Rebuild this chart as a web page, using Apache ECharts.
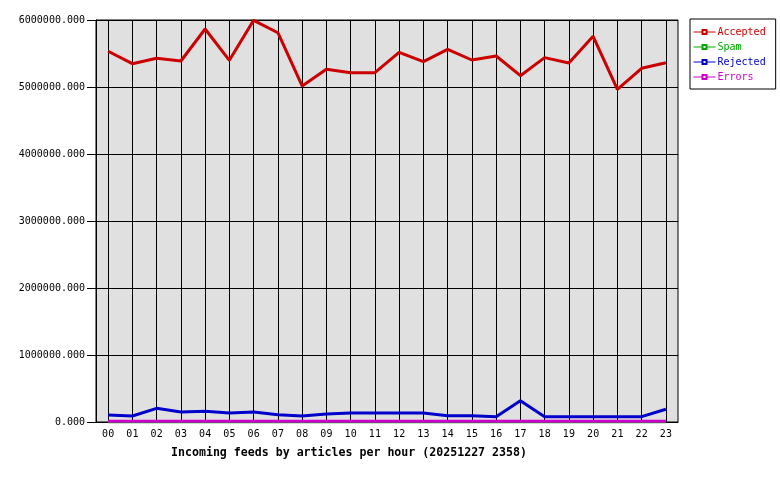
<!DOCTYPE html>
<html><head><meta charset="utf-8">
<script src="https://cdn.jsdelivr.net/npm/echarts@6/dist/echarts.min.js"></script>
<style>html,body{margin:0;padding:0;background:#fff}#c{width:780px;height:480px}</style>
</head><body><div id="c"></div>
<script>
const hours = ['00','01','02','03','04','05','06','07','08','09','10','11','12','13','14','15','16','17','18','19','20','21','22','23'];
const accepted = [5533000,5348000,5428000,5388000,5866000,5398000,5995000,5810000,5015000,5264000,5214000,5214000,5518000,5378000,5562000,5403000,5463000,5169000,5438000,5358000,5757000,4965000,5279000,5363000];
const spam = [0,0,0,0,0,0,0,0,0,0,0,0,0,0,0,0,0,0,0,0,0,0,0,0];
const rejected = [104000,90000,204000,149000,159000,134000,149000,109000,90000,119000,134000,134000,134000,134000,94000,94000,80000,318000,80000,80000,80000,80000,80000,190000];
const errors = [12000,12000,12000,12000,12000,12000,12000,12000,12000,12000,12000,12000,12000,12000,12000,12000,12000,12000,12000,12000,12000,12000,12000,12000];
const yTicks = {min: 0, max: 6000000, interval: 1000000};
const titleText = 'Incoming feeds by articles per hour (20251227 2358)';

const mono = 'DejaVu Sans Mono';
const chart = echarts.init(document.getElementById('c'), null, {renderer: 'canvas'});
function ser(name, data, color) {
  return {name, type: 'line', data, symbol: 'emptyRect', symbolSize: [5, 3], showSymbol: false,
    lineStyle: {color, width: 3}, itemStyle: {color, borderColor: color, borderWidth: 1},
    animation: false, emphasis: {disabled: true}};
}
chart.setOption({
  animation: false,
  title: {text: titleText, left: 166, top: 442,
    textStyle: {fontFamily: mono, fontSize: 11.6, fontWeight: 'bold', color: '#000'}},
  legend: {orient: 'vertical', left: 690, top: 19, padding: [8, 10, 7, 3], itemGap: 5,
    itemWidth: 22, itemHeight: 5, borderColor: '#000', borderWidth: 1,
    itemStyle: {borderWidth: 1},
    lineStyle: {width: 1},
    textStyle: {fontFamily: mono, fontSize: 10, padding: [0, 0, 0, -3]},
    data: [
      {name: 'Accepted', textStyle: {color: '#cc0000'}},
      {name: 'Spam', textStyle: {color: '#00aa00'}},
      {name: 'Rejected', textStyle: {color: '#0000cc'}},
      {name: 'Errors', textStyle: {color: '#cc00cc'}}
    ]},
  grid: {left: 96, right: 102, top: 20, bottom: 58, show: true, backgroundColor: '#e0e0e0',
    borderColor: '#000', borderWidth: 1, containLabel: false},
  xAxis: {type: 'category', data: hours, boundaryGap: true,
    axisLine: {lineStyle: {color: '#000', width: 1}},
    axisTick: {show: false},
    splitLine: {show: true, alignWithLabel: true, interval: 0, lineStyle: {color: '#000', width: 1}},
    axisLabel: {interval: 0, fontFamily: mono, fontSize: 10, color: '#000', margin: 7}},
  yAxis: {type: 'value', min: yTicks.min, max: yTicks.max, interval: yTicks.interval,
    axisLine: {show: true, lineStyle: {color: '#000'}},
    axisTick: {show: true, length: 9, lineStyle: {color: '#000'}},
    splitLine: {show: true, lineStyle: {color: '#000', width: 1}},
    axisLabel: {fontFamily: mono, fontSize: 10, color: '#000', margin: 11,
      formatter: v => v.toFixed(3)}},
  series: [
    ser('Accepted', accepted, '#cc0000'),
    ser('Spam', spam, '#00aa00'),
    ser('Rejected', rejected, '#0000cc'),
    ser('Errors', errors, '#cc00cc')
  ]
});
</script></body></html>
